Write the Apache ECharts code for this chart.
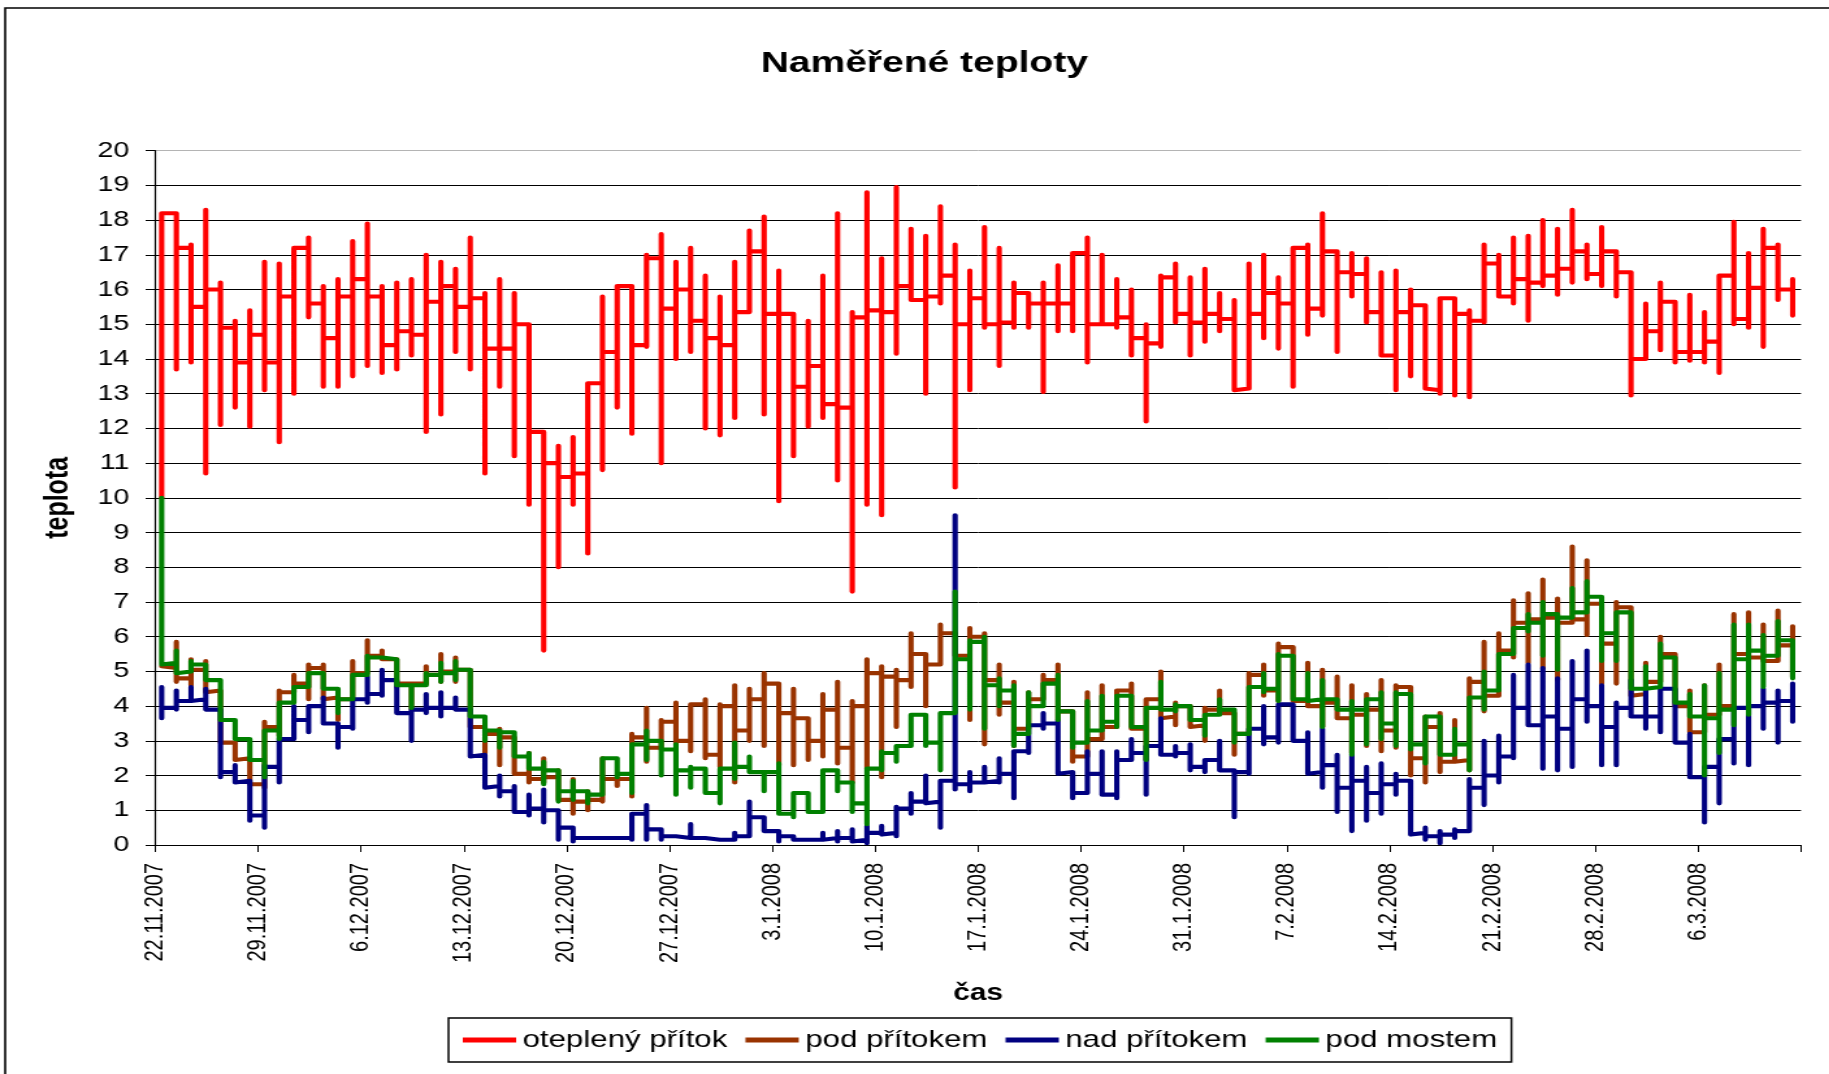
<!DOCTYPE html>
<html lang="cs">
<head>
    <meta charset="UTF-8">
    <title>Naměřené teploty</title>
    <script src="https://cdn.jsdelivr.net/npm/echarts@6/dist/echarts.min.js"></script>
    <style>
        html, body{
            margin: 0;
            padding: 0;
            background: #fff;
            overflow: hidden;
        }
        /* the source picture is an Excel chart stretched sideways, so draw narrower and stretch the same way */
        #chart{
            width: 1407px;
            height: 1074px;
            transform: scaleX(1.3);
            transform-origin: 0 0;
        }
    </style>
</head>
<body>
<div id="chart"></div>

<script>
    /* osa x: dny od 22.11.2007, popisky po týdnu */
    var dateLabels = ['22.11.2007','29.11.2007','6.12.2007','13.12.2007','20.12.2007','27.12.2007','3.1.2008',
                      '10.1.2008','17.1.2008','24.1.2008','31.1.2008','7.2.2008','14.2.2008','21.2.2008',
                      '28.2.2008','6.3.2008'];
    var readTime = 0.43;   // denní odečet kolem 10:20

    /* oteplený přítok: hladina po odečtu, minimum a maximum při odečtu */
    var warmLevel = [18.2,17.2,15.5,16.0,14.9,13.9,14.7,13.9,15.8,17.2,15.6,14.6,15.8,16.3,
                     15.8,14.4,14.8,14.7,15.65,16.1,15.5,15.75,14.3,14.3,15.0,11.9,11.0,10.6,
                     10.7,13.3,14.2,16.1,14.4,16.9,15.45,16.0,15.1,14.6,14.4,15.35,17.1,15.3,
                     15.3,13.2,13.8,12.7,12.6,15.2,15.4,15.35,16.1,15.7,15.8,16.4,15.0,15.75,
                     15.0,15.05,15.9,15.6,15.6,15.6,17.05,15.0,15.0,15.2,14.6,14.45,16.35,15.3,
                     15.05,15.3,15.15,13.15,15.3,15.9,15.6,17.2,15.45,17.1,16.5,16.45,15.35,14.1,
                     15.35,15.55,13.1,15.75,15.3,15.1,16.75,15.8,16.3,16.2,16.4,16.6,17.1,16.45,
                     17.1,16.5,14.0,14.8,15.65,14.2,14.2,14.5,16.4,15.15,16.05,17.2,16.0,15.5];
    var warmLow = [10.0,13.7,13.9,10.7,12.1,12.6,12.05,13.1,11.6,13.0,15.2,13.2,13.2,13.5,
                   13.8,13.6,13.7,14.1,11.9,12.4,14.2,13.7,10.7,13.2,11.2,9.8,5.6,8.0,
                   9.8,8.4,10.8,12.6,11.85,14.35,11.0,14.0,14.2,12.0,11.8,12.3,15.35,12.4,
                   9.9,11.2,12.05,12.3,10.5,7.3,9.8,9.5,14.15,15.7,13.0,15.6,10.3,13.1,
                   14.9,13.8,14.9,14.9,13.05,14.8,14.8,13.9,15.0,14.9,14.1,12.2,14.35,15.05,
                   14.1,14.5,14.8,13.1,13.15,14.6,14.3,13.2,14.7,15.25,14.2,15.8,15.05,14.1,
                   13.1,13.5,13.15,13.0,12.95,12.9,15.05,15.8,15.6,15.1,16.1,15.85,16.2,16.3,
                   16.1,15.8,12.95,14.25,14.25,13.9,13.95,13.9,13.6,15.0,14.9,14.35,15.7,15.25];
    var warmHigh = [18.1,18.2,17.3,18.3,16.2,15.1,15.4,16.8,16.75,17.2,17.5,16.1,16.3,17.4,
                    17.9,16.1,16.2,16.3,17.0,16.8,16.6,17.5,15.9,16.3,15.9,14.9,11.9,11.5,
                    11.75,12.9,15.8,16.1,16.1,17.0,17.6,16.8,17.2,16.4,15.8,16.8,17.7,18.1,
                    16.55,15.3,15.1,16.4,18.2,15.35,18.8,16.9,18.95,17.75,17.55,18.4,17.3,16.55,
                    17.8,17.2,16.2,15.7,16.2,16.7,16.9,17.5,17.0,16.3,16.0,15.0,16.4,16.75,
                    16.35,16.6,15.9,15.7,16.75,17.0,16.35,17.1,17.3,18.2,17.05,17.05,16.9,16.5,
                    16.55,16.0,15.6,15.75,15.75,15.4,17.3,17.0,17.5,17.55,18.0,17.75,18.3,17.3,
                    17.8,17.1,16.45,15.6,16.2,15.65,15.85,15.35,16.3,17.95,17.05,17.75,17.3,16.3];

    /* pod přítokem */
    var belowLevel = [5.1,4.8,5.05,4.45,2.95,2.5,1.75,3.4,4.4,4.65,5.1,4.25,4.2,4.95,
                      5.45,5.35,4.65,4.65,4.9,5.0,5.05,3.4,3.2,3.1,2.05,1.9,1.95,1.3,
                      1.25,1.3,1.9,1.9,3.1,2.8,3.55,3.0,4.05,2.6,4.0,3.3,4.2,4.65,
                      3.8,3.65,3.0,3.9,2.8,4.0,4.95,4.85,4.75,5.5,5.2,6.1,5.45,6.0,
                      4.75,4.1,3.35,4.2,4.75,3.85,2.55,3.05,3.4,4.45,3.35,4.2,3.7,4.0,
                      3.45,3.9,3.8,3.2,4.9,4.45,5.7,4.15,4.0,4.1,3.65,3.75,3.9,3.3,
                      4.55,2.5,3.4,2.4,2.45,4.7,4.3,5.6,6.4,6.5,6.55,6.4,6.5,6.95,
                      5.8,6.85,4.35,4.7,5.5,4.0,3.25,3.75,4.0,5.5,5.4,5.3,5.75,5.8];
    var belowLow = [5.1,4.7,4.6,4.4,2.95,2.45,1.75,1.65,3.15,4.4,4.2,4.2,3.6,4.2,
                    4.95,5.35,4.55,3.9,4.65,4.7,4.7,3.4,2.65,2.3,2.05,1.8,1.8,1.3,
                    0.9,1.0,1.25,1.7,1.4,2.4,2.75,2.9,2.7,2.5,2.25,1.8,3.0,2.85,
                    2.3,2.3,2.45,2.55,2.35,1.8,2.2,1.95,3.4,4.55,4.0,5.2,5.45,3.6,
                    2.9,3.75,2.85,3.35,4.2,3.6,2.4,2.55,3.05,3.4,3.35,2.45,3.65,3.45,
                    3.4,3.0,3.8,2.6,3.2,4.3,4.15,4.15,4.0,3.4,3.65,2.65,2.85,2.7,
                    2.8,2.0,1.8,2.1,2.4,2.15,3.85,4.3,5.4,5.25,5.1,4.75,6.4,6.05,
                    4.65,4.65,4.3,4.35,4.7,4.0,3.25,3.25,3.75,4.0,5.4,5.3,5.3,4.85];
    var belowHigh = [5.15,5.85,5.35,5.3,4.45,3.0,2.5,3.55,4.45,4.9,5.2,5.2,4.3,5.3,
                     5.9,5.6,5.35,4.65,5.15,5.5,5.4,5.05,3.4,3.35,3.1,2.65,2.5,2.15,
                     1.9,1.55,2.5,1.9,3.2,3.95,3.6,4.1,4.05,4.2,4.05,4.6,4.5,4.95,
                     4.65,4.5,3.65,4.35,4.7,4.15,5.35,5.15,5.05,6.1,5.5,6.35,6.1,6.25,
                     6.1,5.2,4.7,4.4,4.9,5.2,3.85,4.4,4.6,4.45,4.65,4.2,5.0,4.1,
                     4.0,3.95,4.45,3.8,4.95,5.2,5.8,5.7,5.25,5.05,4.85,4.6,4.35,4.75,
                     4.6,4.6,3.7,3.8,3.6,4.8,5.85,6.1,7.05,7.25,7.65,7.1,8.6,8.2,
                     6.95,7.0,6.85,5.25,6.0,5.5,4.45,4.6,5.2,6.65,6.7,6.35,6.75,6.3];

    /* nad přítokem */
    var aboveLevel = [3.95,4.15,4.2,3.9,2.1,1.85,0.85,2.25,3.05,3.6,4.0,3.5,3.4,4.2,
                      4.35,4.75,3.8,3.9,3.95,3.95,3.9,2.6,1.7,1.55,0.95,1.05,1.0,0.5,
                      0.2,0.2,0.2,0.2,0.9,0.45,0.25,0.2,0.2,0.15,0.15,0.25,0.8,0.4,
                      0.25,0.15,0.15,0.2,0.2,0.15,0.35,0.35,1.05,1.25,1.25,1.85,1.75,1.8,
                      1.85,2.05,2.7,3.45,3.5,2.1,1.5,2.05,1.45,2.45,2.65,2.85,2.6,2.65,
                      2.25,2.45,2.15,2.1,3.35,3.1,4.05,3.0,2.1,2.3,1.65,1.85,1.5,1.75,
                      1.85,0.35,0.25,0.3,0.4,1.65,2.0,2.55,3.95,3.45,3.7,3.35,4.2,4.0,
                      3.4,3.95,3.7,3.7,4.5,2.95,1.95,2.25,3.05,3.95,4.0,4.1,4.15,4.0];
    var aboveLow = [3.65,3.9,4.15,3.9,1.95,1.8,0.7,0.5,1.8,3.05,3.25,3.5,2.8,3.35,
                    4.1,4.3,3.8,3.0,3.8,3.7,3.9,2.55,1.65,1.4,0.95,0.85,0.65,0.15,
                    0.1,0.15,0.15,0.15,0.15,0.15,0.15,0.2,0.2,0.15,0.15,0.15,0.25,0.4,
                    0.1,0.15,0.15,0.15,0.1,0.1,0.05,0.3,0.25,0.9,1.2,0.5,1.6,1.55,
                    1.8,1.8,1.35,2.65,3.35,2.05,1.35,1.5,1.45,1.35,2.45,1.45,2.6,2.55,
                    2.15,2.1,2.15,0.8,2.05,2.9,2.95,3.0,2.05,1.65,0.95,0.4,0.7,0.9,
                    1.45,0.3,0.15,0.05,0.2,0.4,1.15,1.8,2.5,3.45,2.2,2.15,2.25,3.55,
                    2.3,2.3,3.7,3.35,3.25,2.95,1.95,0.65,1.2,2.35,2.3,3.35,2.95,3.55];
    var aboveHigh = [4.55,4.45,4.55,4.5,3.9,2.3,1.85,2.3,3.05,4.0,4.0,4.25,3.5,4.2,
                     4.85,5.05,4.75,3.9,4.35,4.4,4.25,3.9,2.6,2.0,1.7,1.45,1.6,1.05,
                     0.5,0.2,0.2,0.2,0.9,1.15,0.45,0.25,0.6,0.2,0.15,0.35,1.25,0.8,
                     0.45,0.25,0.15,0.35,0.4,0.45,0.55,0.55,1.1,1.5,2.0,1.85,9.5,2.1,
                     2.25,2.5,2.7,3.45,3.8,3.6,2.1,2.7,2.7,2.7,3.05,2.85,3.65,2.85,
                     2.9,2.45,3.0,2.15,3.35,4.0,4.05,4.05,3.25,3.35,2.6,2.6,2.25,2.35,
                     2.05,1.85,0.5,0.4,0.45,1.9,3.0,3.15,4.9,5.2,5.1,4.8,5.3,5.6,
                     4.6,4.1,4.75,4.5,4.5,4.5,3.2,1.95,2.65,3.45,3.8,4.5,4.45,4.65];

    /* pod mostem */
    var bridgeLevel = [5.25,5.0,5.2,4.75,3.6,3.05,2.45,3.3,4.1,4.55,4.95,4.5,4.2,4.9,
                       5.4,5.35,4.6,4.6,4.9,4.95,5.05,3.7,3.3,3.25,2.55,2.2,2.15,1.55,
                       1.55,1.45,2.5,2.05,2.9,3.0,2.75,2.15,2.2,1.5,2.2,2.25,2.1,2.1,
                       0.9,1.5,0.95,2.15,1.8,1.2,2.2,2.65,2.85,3.75,2.95,3.8,5.35,5.85,
                       4.6,4.45,3.2,4.0,4.65,3.85,2.95,3.3,3.55,4.3,3.4,3.95,3.9,4.0,
                       3.6,3.75,3.9,3.2,4.55,4.5,5.45,4.2,4.2,4.2,3.9,3.9,4.2,3.5,
                       4.35,2.9,3.7,2.6,2.9,4.25,4.45,5.5,6.25,6.4,6.65,6.55,6.7,7.15,
                       6.1,6.7,4.5,4.55,5.4,4.1,3.7,3.65,3.9,5.35,5.6,5.45,5.9,5.5];
    var bridgeLow = [5.2,4.95,5.0,4.75,3.6,3.05,2.45,1.95,3.05,4.1,4.55,4.5,3.8,4.2,
                     4.9,5.35,4.6,3.95,4.6,4.7,4.75,3.7,3.0,2.8,2.55,2.2,1.75,1.25,
                     1.3,1.2,1.45,1.95,1.5,2.45,2.0,1.45,1.65,1.5,1.2,1.9,2.1,1.55,
                     0.9,0.8,0.95,0.95,1.55,0.95,0.6,2.15,2.4,2.85,2.85,2.15,3.8,3.9,
                     3.35,4.0,2.85,3.2,4.0,3.6,2.8,2.95,3.3,3.4,3.4,2.45,3.9,3.85,
                     3.6,3.15,3.75,2.95,3.2,4.4,4.15,4.2,4.15,3.4,3.9,2.6,2.9,3.05,
                     2.85,2.75,2.35,2.6,2.6,2.15,3.9,4.45,5.5,6.15,5.45,5.05,6.55,6.7,
                     5.3,5.3,4.5,4.5,4.55,4.1,3.7,2.0,2.65,3.45,3.75,4.55,5.45,4.8];
    var bridgeHigh = [10.0,5.6,5.3,5.2,4.75,3.6,3.05,3.3,4.1,4.55,4.95,4.95,4.5,4.9,
                      5.45,5.45,5.35,4.6,4.95,5.25,5.3,5.05,3.7,3.3,3.25,2.65,2.4,2.15,
                      1.85,1.55,2.5,2.5,2.85,3.3,3.0,2.9,2.25,2.2,2.2,2.95,2.55,2.1,
                      2.35,1.5,1.5,2.15,2.2,1.8,2.2,2.7,2.85,3.75,3.8,3.8,7.3,5.9,
                      6.0,4.8,4.6,4.4,4.65,4.9,3.85,4.15,4.3,4.3,4.3,3.95,4.7,4.05,
                      4.0,3.75,4.2,3.9,4.55,4.95,5.5,5.45,4.95,4.75,4.2,4.15,4.2,4.4,
                      4.4,4.35,3.7,3.7,3.35,4.25,5.0,5.5,6.25,6.65,7.0,6.65,7.4,7.6,
                      7.15,6.7,6.7,5.15,5.8,5.4,4.35,4.6,4.95,6.35,6.35,6.05,6.45,5.9];

    var fontName = 'Liberation Sans, Arial, sans-serif';

    // each reading: previous level -> max -> min -> new level, all at the same moment
    function buildPoints(level, low, high){
        var pts = [];
        for (var d = 0; d < level.length; d++) {
            var t = d + readTime;
            if (d > 0) pts.push([t, level[d - 1]]);
            pts.push([t, high[d]]);
            pts.push([t, low[d]]);
            pts.push([t, level[d]]);
        }
        return pts;
    }

    function lineSeries(name, color, level, low, high){
        return {
            name: name,
            type: 'line',
            data: buildPoints(level, low, high),
            symbol: 'none',
            showSymbol: false,
            color: color,
            lineStyle: {color: color, width: 4.1, cap: 'round', join: 'round'},
            emphasis: {disabled: true},
            animation: false
        };
    }

    var gridColors = [];
    for (var i = 0; i <= 20; i++) gridColors.push(i === 20 ? '#b4b4b4' : '#000');

    var option = {
        backgroundColor: '#fff',
        animation: false,
        title: {
            text: 'Naměřené teploty',
            left: 711,
            top: 49,
            padding: 0,
            textAlign: 'center',
            textStyle: {fontFamily: fontName, fontWeight: 'bold', fontSize: 30, color: '#000'}
        },
        legend: {
            data: ['oteplený přítok', 'pod přítokem', 'nad přítokem', 'pod mostem'],
            left: 345,
            top: 1018,
            orient: 'horizontal',
            icon: 'rect',
            itemWidth: 41,
            itemHeight: 5,
            itemGap: 14,
            padding: [10, 11, 10, 11],
            borderColor: '#000',
            borderWidth: 1.5,
            selectedMode: false,
            textStyle: {fontFamily: fontName, fontSize: 24, color: '#000'}
        },
        graphic: [
            {
                type: 'rect',
                silent: true,
                z: -10,
                shape: {x: 4, y: 8, width: 2000, height: 2000},
                style: {fill: 'none', stroke: '#000', lineWidth: 1.6}
            }
        ],
        grid: {
            left: 119.5,
            right: 21.6,
            top: 150.7,
            bottom: 229,
            containLabel: false,
            outerBoundsMode: 'none'
        },
        xAxis: {
            type: 'value',
            min: 0,
            max: 112,
            interval: 7,
            name: 'čas',
            nameLocation: 'middle',
            nameGap: 137,
            nameTextStyle: {fontFamily: fontName, fontWeight: 'bold', fontSize: 23, color: '#000'},
            axisLine: {show: true, onZero: false, lineStyle: {color: '#000', width: 1.2}},
            axisTick: {show: true, inside: false, length: 7, lineStyle: {color: '#000', width: 1}},
            axisLabel: {
                rotate: 90,
                margin: 18,
                padding: [9, 0, 0, 0],
                fontFamily: fontName,
                fontSize: 20,
                color: '#000',
                formatter: function (v) {
                    return dateLabels[Math.round(v / 7)] || '';
                }
            },
            splitLine: {show: false}
        },
        yAxis: {
            type: 'value',
            min: 0,
            max: 20,
            interval: 1,
            name: 'teplota',
            nameLocation: 'middle',
            nameGap: 62,
            nameTextStyle: {fontFamily: fontName, fontWeight: 'bold', fontSize: 25, color: '#000'},
            axisLine: {show: true, lineStyle: {color: '#000', width: 1.2}},
            axisTick: {show: true, inside: false, length: 7.5, lineStyle: {color: '#000', width: 1}},
            axisLabel: {margin: 20, fontFamily: fontName, fontSize: 22, color: '#000'},
            splitLine: {show: true, lineStyle: {color: gridColors, width: 1}}
        },
        series: [
            lineSeries('oteplený přítok', '#ff0000', warmLevel, warmLow, warmHigh),
            lineSeries('pod přítokem', '#993300', belowLevel, belowLow, belowHigh),
            lineSeries('nad přítokem', '#000080', aboveLevel, aboveLow, aboveHigh),
            lineSeries('pod mostem', '#008000', bridgeLevel, bridgeLow, bridgeHigh)
        ]
    };

    var chart = echarts.init(document.getElementById('chart'), null, {renderer: 'canvas'});
    chart.setOption(option);
</script>
</body>
</html>
